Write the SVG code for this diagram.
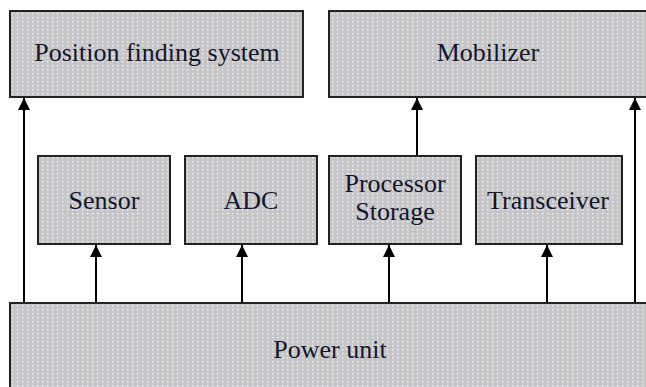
<svg xmlns="http://www.w3.org/2000/svg" width="646" height="387" viewBox="0 0 646 387">
  <defs>
    <!-- stippled grey fill used by every block -->
    <pattern id="stipple" width="5" height="4" patternUnits="userSpaceOnUse">
      <rect width="5" height="4" fill="#c6c6c9"/>
      <rect x="2" y="1" width="1.4" height="1.4" fill="#f2f4f6"/>
    </pattern>
    <marker id="arrow" markerUnits="userSpaceOnUse" markerWidth="12" markerHeight="12" refX="12" refY="6" orient="auto">
      <path d="M0,0 L12,6 L0,12 z" fill="#000"/>
    </marker>
    <style>
      .box { fill: url(#stipple); stroke: #222; stroke-width: 2; }
      .lbl { font-family: 'Liberation Serif', 'Times New Roman', serif; font-size: 26px; fill: #14142a; text-anchor: middle; }
      .wire { stroke: #000; stroke-width: 2; fill: none; marker-end: url(#arrow); }
    </style>
  </defs>
  <rect width="646" height="387" fill="#fff"/>

  <g id="connectors">
    <line class="wire" x1="24" y1="303" x2="24" y2="98"/>
    <line class="wire" x1="96" y1="303" x2="96" y2="245"/>
    <line class="wire" x1="242" y1="303" x2="242" y2="245"/>
    <line class="wire" x1="389" y1="303" x2="389" y2="245"/>
    <line class="wire" x1="547" y1="303" x2="547" y2="245"/>
    <line class="wire" x1="635" y1="303" x2="635" y2="98"/>
    <line class="wire" x1="417" y1="156" x2="417" y2="98"/>
  </g>

  <g id="position-finding">
    <rect class="box" x="10" y="11" width="293" height="86"/>
    <text class="lbl" x="157" y="61">Position finding system</text>
  </g>
  <g id="mobilizer">
    <rect class="box" x="329" y="11" width="320" height="86"/>
    <text class="lbl" x="488" y="61">Mobilizer</text>
  </g>
  <g id="sensor">
    <rect class="box" x="38" y="156" width="132" height="88"/>
    <text class="lbl" x="104" y="209">Sensor</text>
  </g>
  <g id="adc">
    <rect class="box" x="185" y="156" width="132" height="88"/>
    <text class="lbl" x="251" y="209">ADC</text>
  </g>
  <g id="processor-storage">
    <rect class="box" x="329" y="156" width="132" height="88"/>
    <text class="lbl" x="395" y="192">Processor</text>
    <text class="lbl" x="395" y="220">Storage</text>
  </g>
  <g id="transceiver">
    <rect class="box" x="476" y="156" width="146" height="88"/>
    <text class="lbl" x="548" y="209">Transceiver</text>
  </g>
  <g id="power-unit">
    <rect class="box" x="10" y="303" width="645" height="90"/>
    <text class="lbl" x="330" y="358">Power unit</text>
  </g>
</svg>
